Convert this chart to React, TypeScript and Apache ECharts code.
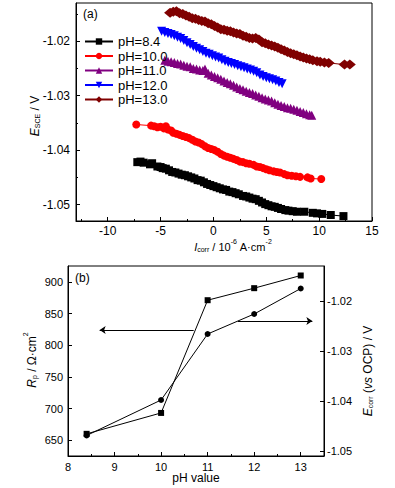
import React, { useEffect, useRef } from "react";
import * as echarts from "echarts";

const FONT = "Liberation Sans, Arial, sans-serif";

// Panel (a): polarization-style data, [I_corr (10^-6 A·cm^-2), E_SCE (V)]
const seriesNamesA = ["pH=8.4", "pH=10.0", "pH=11.0", "pH=12.0", "pH=13.0"];
const colorsA = ["#000000", "#FF0000", "#800080", "#0000FF", "#800000"];
const symbolsA = ["rect", "circle", "triangle", "triangle", "diamond"];

const ph84: [number, number][] = [
  [-7.2, -1.0422], [-6.9, -1.0421], [-6.6, -1.0423], [-6.0, -1.0426], [-5.8, -1.0424], [-5.3, -1.043],
  [-5.0, -1.0431], [-4.8, -1.0433], [-4.5, -1.0434], [-4.2, -1.0437], [-3.9, -1.044], [-3.6, -1.0441],
  [-3.3, -1.0443], [-3.0, -1.0445], [-2.7, -1.0446], [-2.4, -1.0448], [-2.1, -1.045], [-1.8, -1.0452],
  [-1.5, -1.0455], [-1.2, -1.0456], [-0.9, -1.0459], [-0.6, -1.0462], [-0.3, -1.0464], [0.0, -1.0466],
  [0.3, -1.0468], [0.6, -1.047], [0.9, -1.0472], [1.2, -1.0473], [1.5, -1.0476], [1.8, -1.0477],
  [2.1, -1.0479], [2.4, -1.0481], [2.8, -1.0484], [3.1, -1.0485], [3.4, -1.0487], [3.7, -1.0489],
  [4.0, -1.049], [4.3, -1.0493], [4.6, -1.0496], [4.9, -1.0499], [5.2, -1.0501], [5.5, -1.0503],
  [5.8, -1.0504], [6.1, -1.0506], [6.4, -1.0508], [6.8, -1.051], [7.1, -1.0511], [7.5, -1.0512],
  [7.9, -1.0513], [8.6, -1.0513], [9.4, -1.0515], [9.8, -1.0516], [10.3, -1.0517], [11.1, -1.0519],
  [12.3, -1.0521],
];

const ph100: [number, number][] = [
  [-7.3, -1.0353], [-5.9, -1.0355], [-5.6, -1.0356], [-5.3, -1.0358], [-5.0, -1.0357], [-4.7, -1.036],
  [-4.5, -1.0356], [-4.3, -1.0362], [-4.0, -1.0364], [-3.8, -1.0368], [-3.5, -1.037], [-3.2, -1.0372],
  [-2.9, -1.0374], [-2.6, -1.0376], [-2.3, -1.0378], [-2.0, -1.0381], [-1.7, -1.0384], [-1.4, -1.0386],
  [-1.1, -1.0389], [-0.8, -1.0393], [-0.5, -1.0396], [-0.2, -1.0398], [0.1, -1.04], [0.4, -1.0403],
  [0.7, -1.0407], [1.0, -1.041], [1.3, -1.0412], [1.6, -1.0414], [1.9, -1.0416], [2.2, -1.0418],
  [2.5, -1.0421], [2.8, -1.0422], [3.1, -1.0424], [3.4, -1.0425], [3.8, -1.0427], [4.1, -1.043],
  [4.4, -1.0431], [4.7, -1.0433], [5.0, -1.0435], [5.3, -1.0437], [5.7, -1.0439], [6.0, -1.044],
  [6.3, -1.0441], [6.7, -1.0444], [7.0, -1.0446], [7.4, -1.0447], [7.8, -1.0448], [8.2, -1.0449],
  [8.9, -1.045], [9.2, -1.0452], [10.2, -1.0453],
];

const ph110: [number, number][] = [
  [-4.6, -1.0235], [-4.3, -1.0237], [-4.0, -1.0238], [-3.7, -1.0239], [-3.4, -1.0241], [-3.1, -1.0242],
  [-2.8, -1.0244], [-2.5, -1.0246], [-2.2, -1.0247], [-1.9, -1.025], [-1.6, -1.0251], [-1.3, -1.0253],
  [-1.0, -1.0254], [-0.8, -1.0251], [-0.5, -1.0259], [-0.2, -1.0262], [0.1, -1.0265], [0.4, -1.0267],
  [0.7, -1.027], [1.0, -1.0273], [1.3, -1.0276], [1.6, -1.0278], [1.9, -1.0281], [2.2, -1.0284],
  [2.5, -1.0287], [2.8, -1.0289], [3.1, -1.0292], [3.4, -1.0294], [3.7, -1.0296], [4.0, -1.0299],
  [4.3, -1.0301], [4.6, -1.0304], [4.9, -1.0306], [5.2, -1.0308], [5.5, -1.031], [5.8, -1.0313],
  [6.1, -1.0316], [6.4, -1.0318], [6.7, -1.032], [7.0, -1.0322], [7.3, -1.0323], [7.6, -1.0325],
  [7.9, -1.0327], [8.2, -1.0329], [8.5, -1.0331], [8.8, -1.0333], [9.1, -1.0335], [9.3, -1.0336],
];

const ph120: [number, number][] = [
  [-4.9, -1.0182], [-4.6, -1.0184], [-4.3, -1.0186], [-4.0, -1.0188], [-3.7, -1.019], [-3.4, -1.0193],
  [-3.1, -1.0195], [-2.8, -1.0199], [-2.5, -1.0203], [-2.2, -1.0206], [-1.9, -1.021], [-1.6, -1.0213],
  [-1.3, -1.0216], [-1.0, -1.0219], [-0.7, -1.0222], [-0.4, -1.0224], [-0.1, -1.0227], [0.2, -1.0229],
  [0.5, -1.0231], [0.8, -1.0234], [1.1, -1.0237], [1.4, -1.0239], [1.7, -1.0241], [2.0, -1.0243],
  [2.3, -1.0245], [2.6, -1.0247], [2.9, -1.0249], [3.2, -1.0251], [3.5, -1.0253], [3.8, -1.0255],
  [4.1, -1.0258], [4.4, -1.0262], [4.7, -1.0265], [5.0, -1.0267], [5.3, -1.0269], [5.6, -1.0271],
  [5.9, -1.0273], [6.2, -1.0276], [6.5, -1.0278],
];

const ph130: [number, number][] = [
  [-4.1, -1.0148], [-3.8, -1.0146], [-3.5, -1.0145], [-3.2, -1.0149], [-2.9, -1.015], [-2.6, -1.0153],
  [-2.3, -1.0155], [-2.0, -1.0158], [-1.7, -1.0159], [-1.4, -1.0161], [-1.1, -1.0163], [-0.8, -1.0164],
  [-0.5, -1.0167], [-0.2, -1.0169], [0.1, -1.0172], [0.4, -1.0175], [0.7, -1.0178], [1.0, -1.0179],
  [1.3, -1.0181], [1.6, -1.0182], [1.9, -1.0184], [2.2, -1.0186], [2.5, -1.0187], [2.8, -1.019],
  [3.1, -1.0192], [3.4, -1.0194], [3.7, -1.0195], [4.0, -1.0194], [4.3, -1.0197], [4.6, -1.0202],
  [4.9, -1.0204], [5.2, -1.0206], [5.5, -1.0208], [5.8, -1.021], [6.1, -1.0212], [6.4, -1.0215],
  [6.7, -1.0217], [7.0, -1.022], [7.3, -1.0222], [7.6, -1.0224], [7.9, -1.0226], [8.2, -1.0228],
  [8.5, -1.023], [8.8, -1.0232], [9.1, -1.0233], [9.4, -1.0235], [9.8, -1.0237], [10.1, -1.0238],
  [10.5, -1.0239], [10.9, -1.024], [12.4, -1.0243], [12.9, -1.0243],
];

const xTicksA = [-10, -5, 0, 5, 10, 15];
const xMinorA = [-12.5, -7.5, -2.5, 2.5, 7.5, 12.5];
const yTicksA = [-1.05, -1.04, -1.03, -1.02];
const yMinorA = [-1.045, -1.035, -1.025, -1.015];

// Panel (b)
const phValues = [8.4, 10, 11, 12, 13];
const rpValues = [660, 693, 871, 890, 910];
const ecorrValues = [-1.0469, -1.0398, -1.0266, -1.0226, -1.0175];
const xTicksB = [8, 9, 10, 11, 12, 13];
const xMinorB = [8.5, 9.5, 10.5, 11.5, 12.5];
const yTicksBLeft = [650, 700, 750, 800, 850, 900];
const yTicksBRight = [-1.05, -1.04, -1.03, -1.02];
// arrows: [x start, x end, Rp level]
const arrowLeft = [10.7, 8.68, 824];
const arrowRight = [11.65, 13.25, 838];

const black = "#000";

function valueAxis(extra: any) {
  return {
    type: "value",
    scale: true,
    splitLine: { show: false },
    axisLine: { show: true, onZero: false, lineStyle: { color: black, width: 1 } },
    ...extra,
  };
}

function makeRich(size: number) {
  return {
    i: { fontStyle: "italic", fontSize: size, fontFamily: FONT, lineHeight: size + 4, verticalAlign: "bottom", fill: black },
    n: { fontSize: size, fontFamily: FONT, lineHeight: size + 4, verticalAlign: "bottom", fill: black },
    s: { fontSize: 7, fontFamily: FONT, lineHeight: 7, verticalAlign: "bottom", fill: black },
    p: { fontSize: 7, fontFamily: FONT, lineHeight: 7, verticalAlign: "top", fill: black },
  };
}

export default function App() {
  const ref = useRef<HTMLDivElement>(null);
  useEffect(() => {
    if (!ref.current) return;
    const chart = echarts.init(ref.current, undefined, { renderer: "svg" });
    const dataA = [ph84, ph100, ph110, ph120, ph130];
    const symSizes: any[] = [8, 8, 9, 9, [12, 10]];
    const seriesA = dataA.map((d, k) => ({
      type: "line",
      name: seriesNamesA[k],
      xAxisIndex: 0,
      yAxisIndex: 0,
      data: d,
      symbol: symbolsA[k],
      symbolRotate: k === 3 ? 180 : 0,
      symbolSize: symSizes[k],
      showAllSymbol: true,
      itemStyle: { color: colorsA[k] },
      lineStyle: { color: colorsA[k], width: 1 },
    }));
    const rich12 = makeRich(12);
    const rich11 = makeRich(11);
    const option: any = {
      animation: false,
      textStyle: { fontFamily: FONT },
      grid: [
        { left: 76, top: 3, width: 296, height: 218, show: true, borderColor: black, borderWidth: 1, backgroundColor: "transparent" },
        { left: 68, top: 266, width: 256, height: 190, show: true, borderColor: black, borderWidth: 1, backgroundColor: "transparent" },
      ],
      legend: {
        data: seriesNamesA,
        orient: "vertical",
        left: 84,
        top: 35,
        padding: 0,
        itemGap: 1.5,
        itemWidth: 28,
        itemHeight: 8,
        selectedMode: false,
        textStyle: { fontSize: 13, fontFamily: FONT, color: black, lineHeight: 13 },
      },
      xAxis: [
        valueAxis({
          gridIndex: 0, min: -13, max: 15, position: "bottom",
          axisTick: { show: true, inside: true, length: 4, customValues: xTicksA, lineStyle: { color: black } },
          axisLabel: { customValues: xTicksA, fontSize: 12, color: black, fontFamily: FONT, margin: 4 },
        }),
        valueAxis({
          gridIndex: 0, min: -13, max: 15, position: "bottom",
          axisLine: { show: false, onZero: false },
          axisTick: { show: true, inside: true, length: 2, customValues: xMinorA, lineStyle: { color: black } },
          axisLabel: { show: false },
        }),
        valueAxis({
          gridIndex: 1, min: 8, max: 13.5, position: "bottom",
          axisTick: { show: true, inside: true, length: 4, customValues: xTicksB, lineStyle: { color: black } },
          axisLabel: { customValues: xTicksB, fontSize: 11, color: black, fontFamily: FONT, margin: 5 },
        }),
        valueAxis({
          gridIndex: 1, min: 8, max: 13.5, position: "bottom",
          axisLine: { show: false, onZero: false },
          axisTick: { show: true, inside: true, length: 2, customValues: xMinorB, lineStyle: { color: black } },
          axisLabel: { show: false },
        }),
      ],
      yAxis: [
        valueAxis({
          gridIndex: 0, min: -1.053, max: -1.013, position: "left",
          axisTick: { show: true, inside: true, length: 4, customValues: yTicksA, lineStyle: { color: black } },
          axisLabel: { customValues: yTicksA, fontSize: 12, color: black, fontFamily: FONT, margin: 6, formatter: (v: number) => v.toFixed(2) },
        }),
        valueAxis({
          gridIndex: 0, min: -1.053, max: -1.013, position: "left",
          axisLine: { show: false, onZero: false },
          axisTick: { show: true, inside: true, length: 2, customValues: yMinorA, lineStyle: { color: black } },
          axisLabel: { show: false },
        }),
        valueAxis({
          gridIndex: 1, min: 625, max: 925, position: "left",
          axisTick: { show: true, inside: true, length: 4, customValues: yTicksBLeft, lineStyle: { color: black } },
          axisLabel: { customValues: yTicksBLeft, fontSize: 11, color: black, fontFamily: FONT, margin: 5 },
        }),
        valueAxis({
          gridIndex: 1, min: -1.051, max: -1.013, position: "right",
          axisTick: { show: true, inside: true, length: 4, customValues: yTicksBRight, lineStyle: { color: black } },
          axisLabel: { customValues: yTicksBRight, fontSize: 11, color: black, fontFamily: FONT, margin: 3, formatter: (v: number) => v.toFixed(2) },
        }),
      ],
      series: [
        ...seriesA,
        {
          type: "line",
          name: "Rp",
          xAxisIndex: 2,
          yAxisIndex: 2,
          data: phValues.map((p, i) => [p, rpValues[i]]),
          symbol: "rect",
          symbolSize: 6,
          itemStyle: { color: black },
          lineStyle: { color: black, width: 1 },
          markLine: {
            silent: true,
            symbol: ["none", "arrow"],
            symbolSize: 6,
            label: { show: false },
            lineStyle: { color: black, width: 1, type: "solid" },
            data: [
              [{ coord: [arrowLeft[0], arrowLeft[2]] }, { coord: [arrowLeft[1], arrowLeft[2]] }],
              [{ coord: [arrowRight[0], arrowRight[2]] }, { coord: [arrowRight[1], arrowRight[2]] }],
            ],
          },
        },
        {
          type: "line",
          name: "Ecorr",
          xAxisIndex: 2,
          yAxisIndex: 3,
          data: phValues.map((p, i) => [p, ecorrValues[i]]),
          symbol: "circle",
          symbolSize: 6,
          itemStyle: { color: black },
          lineStyle: { color: black, width: 1 },
        },
      ],
      graphic: [
        { type: "text", left: 83, top: 8, style: { text: "(a)", fontSize: 12, fontFamily: FONT, fill: black } },
        { type: "text", left: 75, top: 272, style: { text: "(b)", fontSize: 12, fontFamily: FONT, fill: black } },
        {
          type: "text", x: 33, y: 116, rotation: Math.PI / 2,
          style: { text: "{i|E}{s|SCE}{n| / V}", align: "center", verticalAlign: "middle", fontSize: 12, fontFamily: FONT, fill: black, rich: rich12 },
        },
        {
          type: "text", x: 233, y: 245,
          style: { text: "{i|I}{s|corr}{n| / 10}{p|-6}{n| A·cm}{p|-2}", align: "center", verticalAlign: "middle", fontSize: 11, fontFamily: FONT, fill: black, rich: rich11 },
        },
        {
          type: "text", x: 30, y: 360, rotation: Math.PI / 2,
          style: { text: "{i|R}{s|p}{n| / Ω·cm}{p|2}", align: "center", verticalAlign: "middle", fontSize: 12, fontFamily: FONT, fill: black, rich: rich12 },
        },
        {
          type: "text", x: 366, y: 371, rotation: Math.PI / 2,
          style: { text: "{i|E}{s|corr}{n| (}{i|vs}{n| OCP) / V}", align: "center", verticalAlign: "middle", fontSize: 12, fontFamily: FONT, fill: black, rich: rich12 },
        },
        {
          type: "text", x: 196, y: 478,
          style: { text: "pH value", align: "center", verticalAlign: "middle", fontSize: 12, fontFamily: FONT, fill: black },
        },
      ],
    };
    chart.setOption(option);
    return () => chart.dispose();
  }, []);
  return (
    <div
      ref={ref}
      style={{ position: "fixed", left: 0, top: 0, width: 395, height: 488, background: "#fff" }}
    />
  );
}
